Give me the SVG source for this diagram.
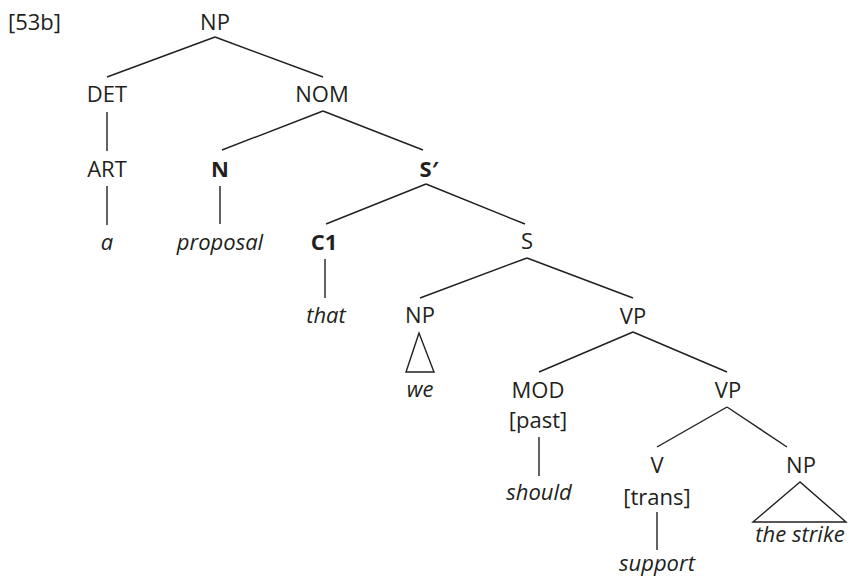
<svg xmlns="http://www.w3.org/2000/svg" width="849" height="579" viewBox="0 0 849 579">
<style>
text{font-family:"Open Sans","Noto Sans",sans-serif;font-size:22px;fill:#231f20;text-anchor:middle}
.b{font-weight:bold}
.i{font-style:italic}
.l{text-anchor:start}
line,polygon{stroke:#231f20;stroke-width:1.4;fill:none}
</style>
<rect width="849" height="579" fill="#fff"/>
<text class="l" x="8" y="30">[53b]</text>
<g id="edges">
<line x1="215" y1="37" x2="107" y2="77"/>
<line x1="215" y1="37" x2="323" y2="77"/>
<line x1="107" y1="112" x2="107" y2="151"/>
<line x1="323" y1="111" x2="222" y2="150"/>
<line x1="323" y1="111" x2="423" y2="150"/>
<line x1="107" y1="186" x2="107" y2="225"/>
<line x1="220" y1="186" x2="220" y2="224"/>
<line x1="426" y1="184" x2="326" y2="224"/>
<line x1="426" y1="184" x2="525" y2="224"/>
<line x1="325" y1="259" x2="325" y2="298"/>
<line x1="527" y1="258" x2="420" y2="298"/>
<line x1="527" y1="258" x2="633" y2="298"/>
<polygon points="419,333 406,372 434,372"/>
<line x1="633" y1="332" x2="539" y2="372"/>
<line x1="633" y1="332" x2="727" y2="372"/>
<line x1="539" y1="437" x2="539" y2="476"/>
<line x1="727" y1="407" x2="657" y2="447"/>
<line x1="727" y1="407" x2="787" y2="447"/>
<line x1="657" y1="512" x2="657" y2="550"/>
<polygon points="800,482 753,522 846,522"/>
</g>
<g id="np1"><text x="215" y="30">NP</text></g>
<g id="det"><text x="107" y="102">DET</text></g>
<g id="nom"><text x="322" y="102">NOM</text></g>
<g id="art"><text x="107" y="177">ART</text></g>
<g id="n"><text class="b" x="220" y="177">N</text></g>
<g id="sbar"><text class="b" x="429" y="177">S′</text></g>
<g id="a"><text class="i" x="107" y="250">a</text></g>
<g id="proposal"><text class="i" x="220" y="250">proposal</text></g>
<g id="c1"><text class="b" x="324" y="250">C1</text></g>
<g id="s"><text x="527" y="249">S</text></g>
<g id="that"><text class="i" x="326" y="323">that</text></g>
<g id="np2"><text x="420" y="323">NP</text></g>
<g id="vp1"><text x="633" y="324">VP</text></g>
<g id="we"><text class="i" x="420" y="397">we</text></g>
<g id="mod"><text x="538" y="398">MOD</text><text x="538" y="428">[past]</text></g>
<g id="vp2"><text x="728" y="398">VP</text></g>
<g id="should"><text class="i" x="539" y="500">should</text></g>
<g id="v"><text x="657" y="473">V</text><text x="657" y="505">[trans]</text></g>
<g id="np3"><text x="801" y="473">NP</text></g>
<g id="thestrike"><text class="i" x="800" y="542">the strike</text></g>
<g id="support"><text class="i" x="657" y="571">support</text></g>
</svg>
